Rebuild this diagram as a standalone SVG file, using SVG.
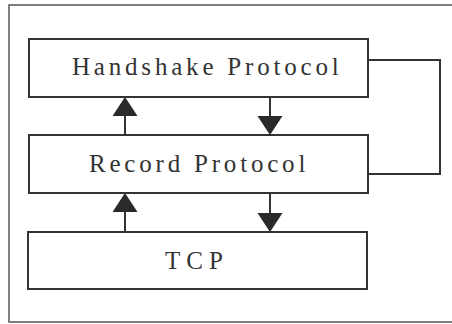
<svg xmlns="http://www.w3.org/2000/svg" width="452" height="324" viewBox="0 0 452 324">
<style>
.box{fill:#fff;stroke:#333;stroke-width:2}
.lbl{font-family:"Liberation Serif","Times New Roman",serif;font-size:25px;fill:#333}
.conn{fill:none;stroke:#333;stroke-width:2}
.frame{fill:none;stroke:#555;stroke-width:1.5}
</style>
<defs>
<marker id="ah" markerUnits="userSpaceOnUse" markerWidth="20" markerHeight="26" refX="0" refY="12.5" orient="auto">
<path d="M0,0 L19,12.5 L0,25 z" fill="#2a2a2a"/>
</marker>
</defs>
<rect width="452" height="324" fill="#fff"/>
<path class="frame" d="M452,5 H9 V322 H452"/>
<g id="handshake">
<rect class="box" x="29" y="39" width="339" height="58"/>
<text class="lbl" x="72" y="75" letter-spacing="3.8">Handshake Protocol</text>
</g>
<g id="record">
<rect class="box" x="29" y="135" width="339" height="58"/>
<text class="lbl" x="89" y="172" letter-spacing="3.8">Record Protocol</text>
</g>
<g id="tcp">
<rect class="box" x="28" y="232" width="339" height="57"/>
<text class="lbl" x="165" y="269" letter-spacing="6">TCP</text>
</g>
<g id="connectors">
<line class="conn" x1="125" y1="135" x2="125" y2="116" marker-end="url(#ah)"/>
<line class="conn" x1="270" y1="97" x2="270" y2="116" marker-end="url(#ah)"/>
<line class="conn" x1="125" y1="232" x2="125" y2="212" marker-end="url(#ah)"/>
<line class="conn" x1="270" y1="193" x2="270" y2="213" marker-end="url(#ah)"/>
<path class="conn" d="M368,60 H440 V174 H368"/>
</g>
</svg>
